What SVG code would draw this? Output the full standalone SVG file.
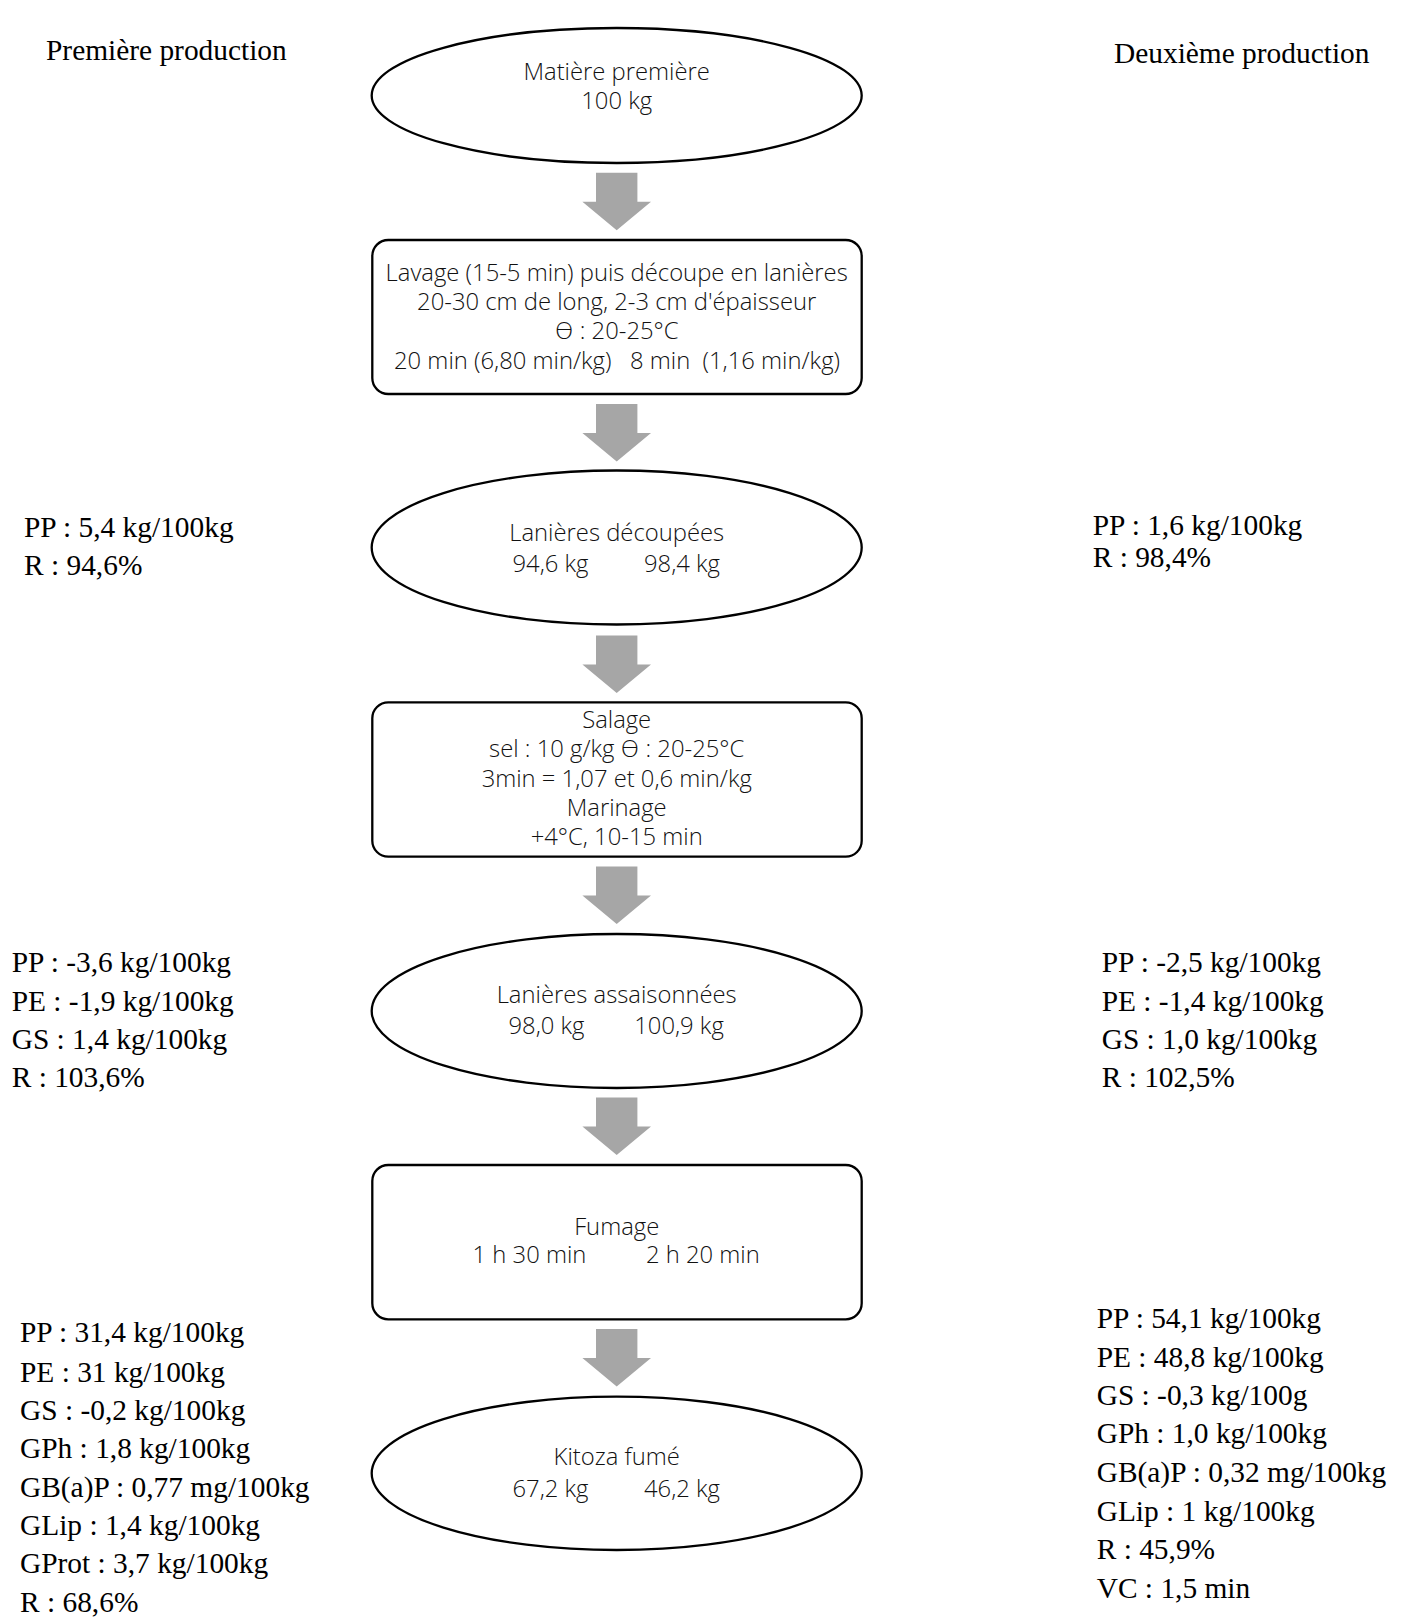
<svg xmlns="http://www.w3.org/2000/svg" width="1403" height="1618" viewBox="0 0 1403 1618">
<style>
.shape{fill:#fff;stroke:#000;stroke-width:2.3}
.c{font-family:"Open Sans","DejaVu Sans",sans-serif;font-weight:300;font-size:23.8px;fill:#111;text-anchor:middle}
.s{font-family:"Liberation Serif","Times New Roman",serif;font-size:29.4px;fill:#000}
.arrow{fill:#a6a6a6}
</style>
<rect width="1403" height="1618" fill="#fff"/>
<defs>
<path id="arr" class="arrow" d="M-20.7,0 H20.7 V29 H34.3 L0,57.5 L-34.3,29 H-20.7 Z"/>
</defs>

<g id="headers">
<text class="s" x="46" y="60">Première production</text>
<text class="s" x="1114" y="63">Deuxième production</text>
</g>

<g id="connectors">
<use href="#arr" x="616.7" y="172.7"/>
<use href="#arr" x="616.7" y="404"/>
<use href="#arr" x="616.7" y="635.5"/>
<use href="#arr" x="616.7" y="866.5"/>
<use href="#arr" x="616.7" y="1097.5"/>
<use href="#arr" x="616.7" y="1329"/>
</g>

<g id="n1">
<ellipse class="shape" cx="616.7" cy="95.5" rx="245" ry="67.5"/>
<text class="c" x="616.7" y="80">Matière première</text>
<text class="c" x="616.7" y="109">100 kg</text>
</g>

<g id="n2">
<rect class="shape" x="372.3" y="240" width="489.4" height="154" rx="16"/>
<text class="c" x="616.7" y="281">Lavage (15-5 min) puis découpe en lanières</text>
<text class="c" x="616.7" y="310">20-30 cm de long, 2-3 cm d'épaisseur</text>
<text class="c" x="616.7" y="339">ϴ : 20-25°C</text>
<text class="c" x="617" y="369" xml:space="preserve">20 min (6,80 min/kg)   8 min  (1,16 min/kg)</text>
</g>

<g id="n3">
<ellipse class="shape" cx="616.7" cy="547.5" rx="245" ry="77"/>
<text class="c" x="616.7" y="540.7">Lanières découpées</text>
<text class="c" x="550.5" y="571.7">94,6 kg</text>
<text class="c" x="682" y="571.7">98,4 kg</text>
</g>

<g id="n4">
<rect class="shape" x="372.3" y="702.3" width="489.4" height="154.4" rx="16"/>
<text class="c" x="616.7" y="728.3">Salage</text>
<text class="c" x="616.7" y="757.3">sel : 10 g/kg ϴ : 20-25°C</text>
<text class="c" x="616.7" y="786.7">3min = 1,07 et 0,6 min/kg</text>
<text class="c" x="616.7" y="816">Marinage</text>
<text class="c" x="616.7" y="845">+4°C, 10-15 min</text>
</g>

<g id="n5">
<ellipse class="shape" cx="616.7" cy="1011" rx="245" ry="77"/>
<text class="c" x="616.7" y="1003.3">Lanières assaisonnées</text>
<text class="c" x="546.5" y="1034">98,0 kg</text>
<text class="c" x="679" y="1034">100,9 kg</text>
</g>

<g id="n6">
<rect class="shape" x="372.3" y="1165" width="489.4" height="154.3" rx="16"/>
<text class="c" x="616.7" y="1235">Fumage</text>
<text class="c" x="529.5" y="1263.3">1 h 30 min</text>
<text class="c" x="702.8" y="1263.3">2 h 20 min</text>
</g>

<g id="n7">
<ellipse class="shape" cx="616.7" cy="1473.3" rx="245" ry="76.7"/>
<text class="c" x="616.7" y="1465">Kitoza fumé</text>
<text class="c" x="550.5" y="1497.3">67,2 kg</text>
<text class="c" x="682" y="1497.3">46,2 kg</text>
</g>

<g id="left-notes">
<text class="s" x="24" y="536.7">PP : 5,4 kg/100kg</text>
<text class="s" x="24" y="575">R : 94,6%</text>
<text class="s" x="11.7" y="971.7">PP : -3,6 kg/100kg</text>
<text class="s" x="11.7" y="1011">PE : -1,9 kg/100kg</text>
<text class="s" x="11.7" y="1049.3">GS : 1,4 kg/100kg</text>
<text class="s" x="11.7" y="1086.7">R : 103,6%</text>
<text class="s" x="20" y="1341.7">PP : 31,4 kg/100kg</text>
<text class="s" x="20" y="1381.7">PE : 31 kg/100kg</text>
<text class="s" x="20" y="1420">GS : -0,2 kg/100kg</text>
<text class="s" x="20" y="1458.3">GPh : 1,8 kg/100kg</text>
<text class="s" x="20" y="1496.7">GB(a)P : 0,77 mg/100kg</text>
<text class="s" x="20" y="1535">GLip : 1,4 kg/100kg</text>
<text class="s" x="20" y="1573.3">GProt : 3,7 kg/100kg</text>
<text class="s" x="20" y="1611.7">R : 68,6%</text>
</g>

<g id="right-notes">
<text class="s" x="1092.7" y="535">PP : 1,6 kg/100kg</text>
<text class="s" x="1092.7" y="567.3">R : 98,4%</text>
<text class="s" x="1101.7" y="971.7">PP : -2,5 kg/100kg</text>
<text class="s" x="1101.7" y="1011">PE : -1,4 kg/100kg</text>
<text class="s" x="1101.7" y="1049.3">GS : 1,0 kg/100kg</text>
<text class="s" x="1101.7" y="1086.7">R : 102,5%</text>
<text class="s" x="1096.7" y="1328.3">PP : 54,1 kg/100kg</text>
<text class="s" x="1096.7" y="1366.7">PE : 48,8 kg/100kg</text>
<text class="s" x="1096.7" y="1405">GS : -0,3 kg/100g</text>
<text class="s" x="1096.7" y="1443.3">GPh : 1,0 kg/100kg</text>
<text class="s" x="1096.7" y="1482.3">GB(a)P : 0,32 mg/100kg</text>
<text class="s" x="1096.7" y="1521">GLip : 1 kg/100kg</text>
<text class="s" x="1096.7" y="1559.3">R : 45,9%</text>
<text class="s" x="1096.7" y="1598.3">VC : 1,5 min</text>
</g>
</svg>
